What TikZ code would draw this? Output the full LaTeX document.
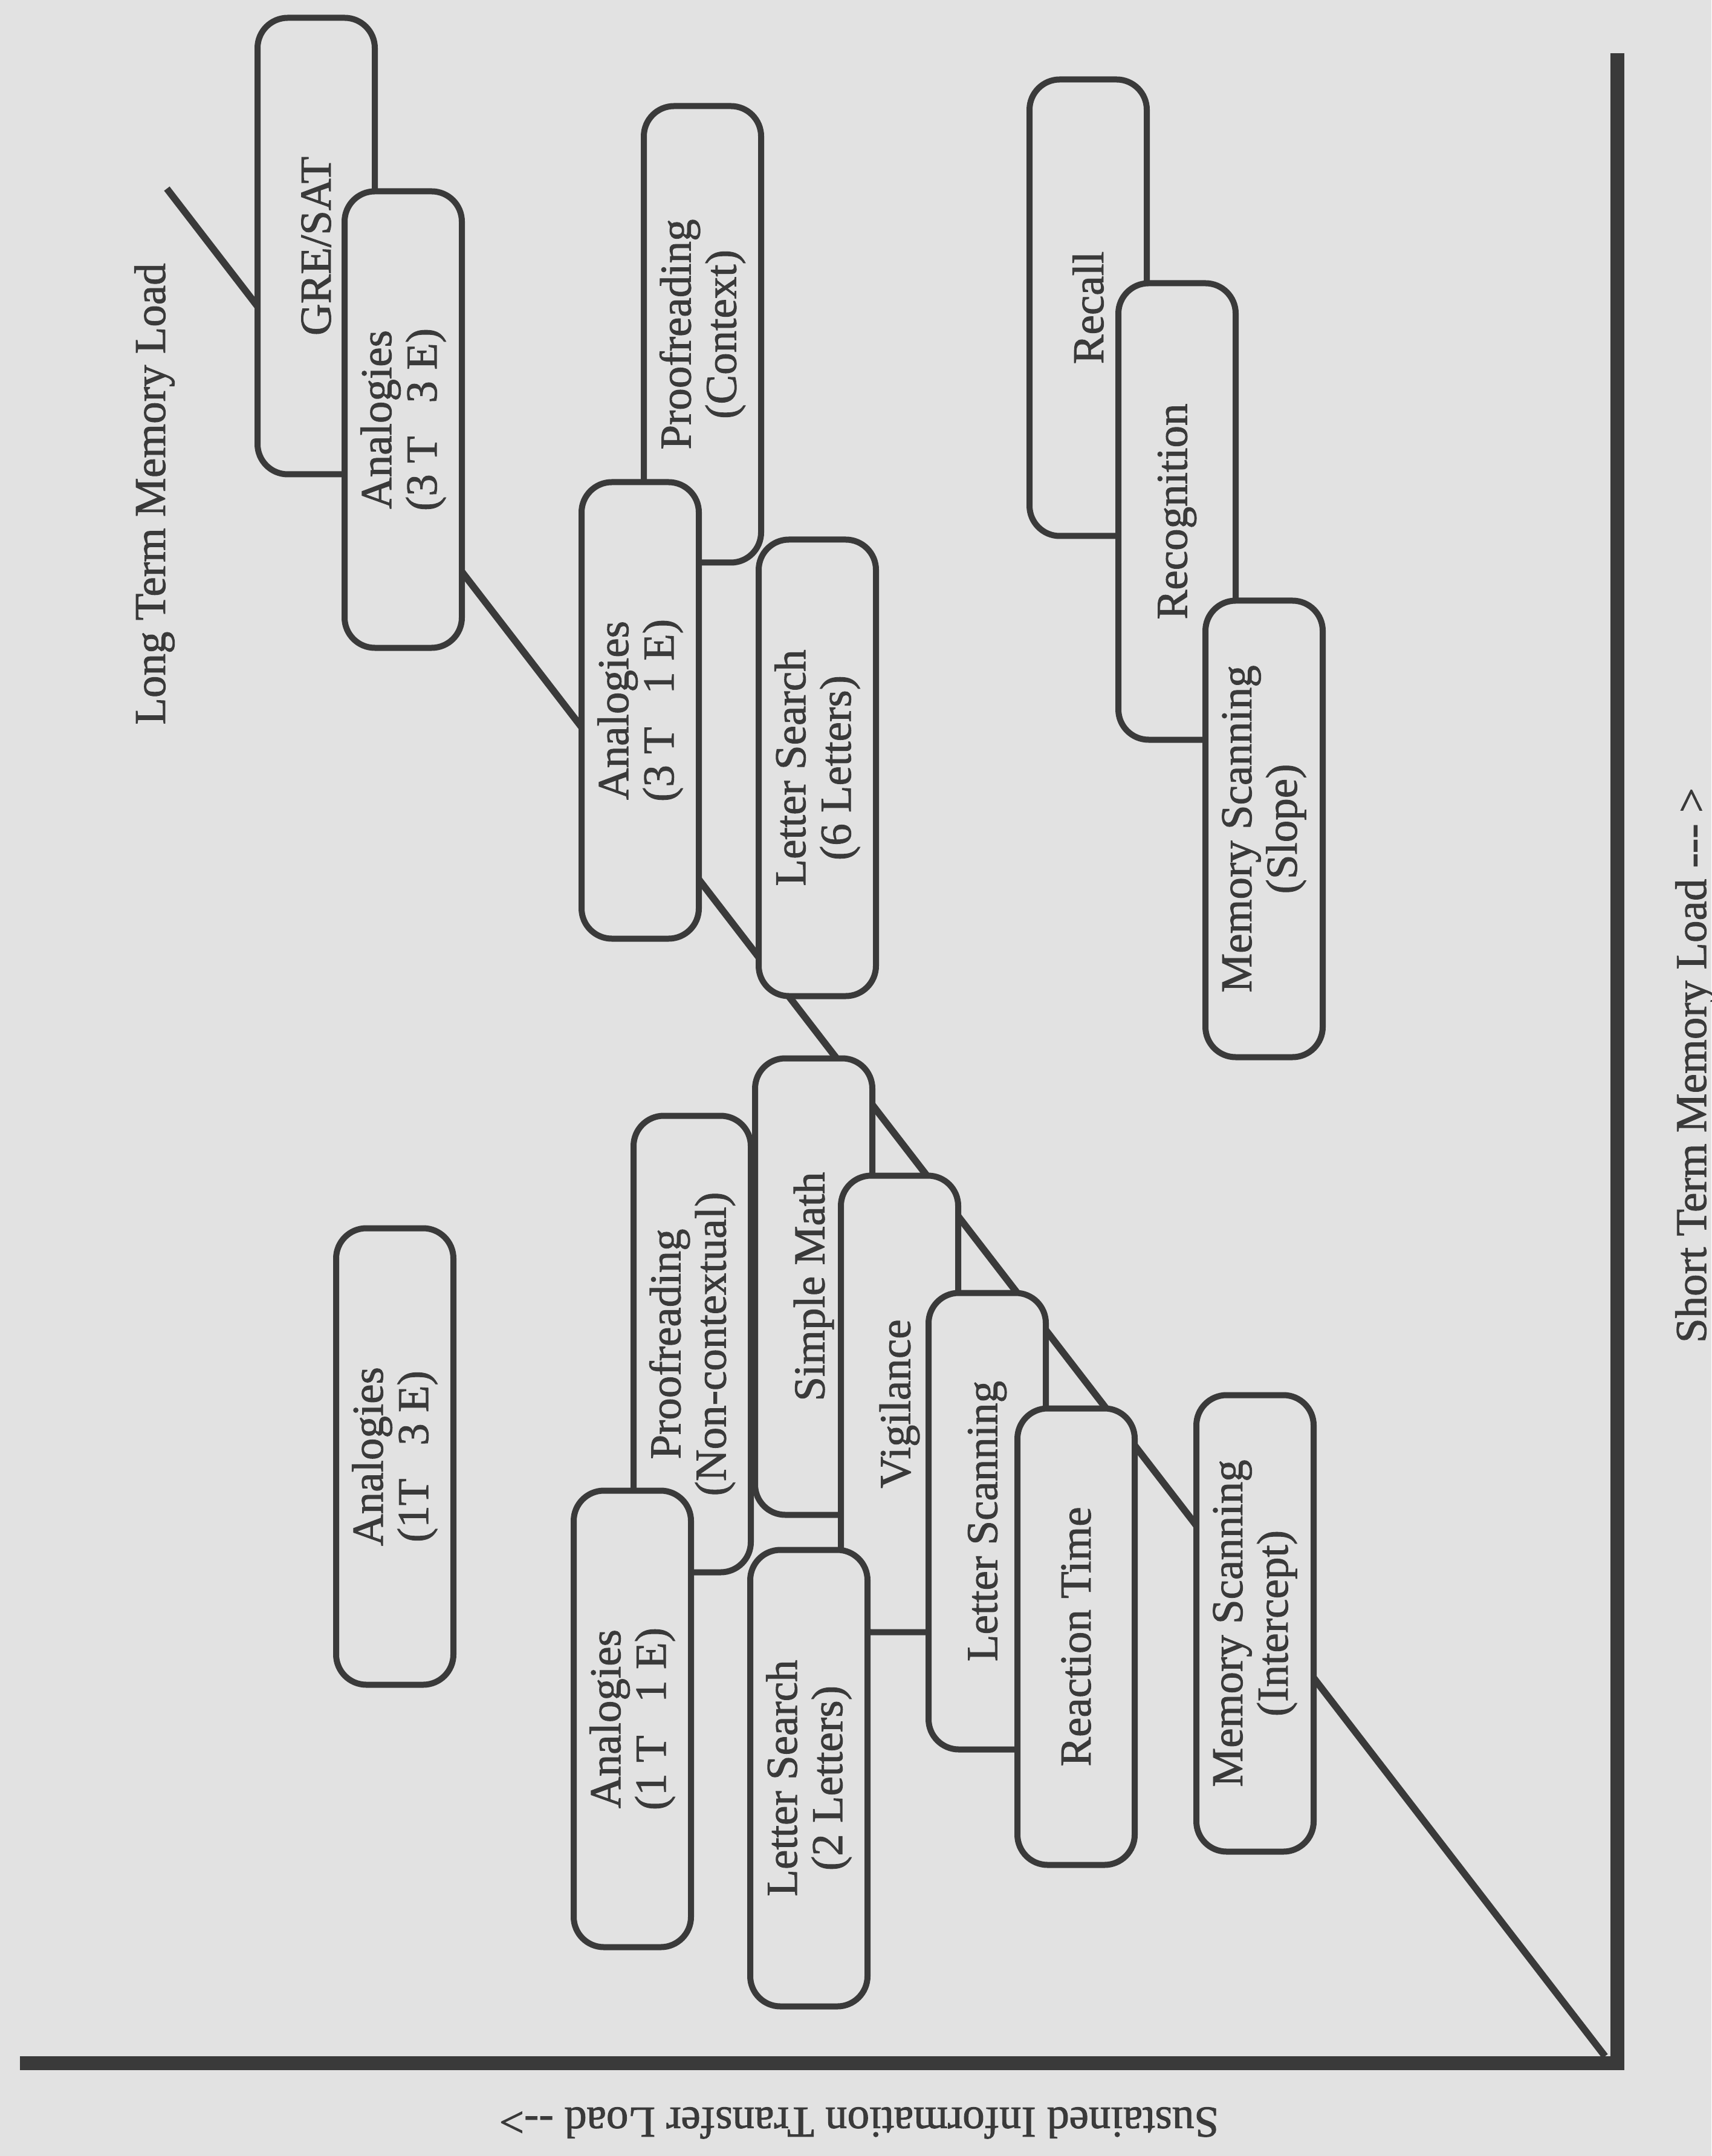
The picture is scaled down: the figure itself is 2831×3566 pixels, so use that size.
\documentclass[tikz,border=0pt]{standalone}
\usepackage{fontspec}
\setmainfont{Liberation Serif}
\newfontfamily\inkfont{Liberation Serif}[BoldFont=Liberation Serif, BoldFeatures={FakeBold=1.3}]

\definecolor{paper}{RGB}{226,226,226}
\definecolor{ink}{RGB}{58,58,58}

\tikzset{every picture/.style={line width=2pt}}
\tikzset{
    task/.style={draw=ink, fill=paper, rounded corners=10pt, rotate=90,
        minimum width=151pt, minimum height=38.8pt, inner sep=0pt,
        align=center, text=ink, font=\inkfont\bfseries\fontsize{14.6}{15}\selectfont},
    axislabel/.style={text=ink, inner sep=0pt, font=\inkfont\bfseries\fontsize{14.6}{15}\selectfont},
    axisline/.style={draw=ink, line width=4.6pt, line join=miter},
    loadline/.style={draw=ink, line width=2.3pt},
}

\begin{document}
\begin{tikzpicture}[x=0.2pt,y=0.2pt,yscale=-1,xscale=1]
    %set diagram at 2831 x 3566
    \useasboundingbox (0,0) rectangle (2831,3566);
    \fill [paper] (0,0) rectangle (2831,3566);
    %Straight Lines
    \coordinate (ltm) at (276,312);
    \coordinate (origin) at (2655,3401);
    \draw [loadline] (origin) -- (ltm);
    %Straight Lines
    \coordinate (ytop) at (2675,88);
    \coordinate (corner) at (2675,3412);
    \coordinate (xleft) at (33,3412);
    \draw [axisline] (ytop) -- (corner) -- (xleft);

    %Rounded Rect
    \node (gre) [task] at (523,407) {GRE/SAT};
    \node (anaTT) [task] at (667,694) {Analogies\\(3 T \ \ 3 E)};
    %Rounded Rect
    \node (proofctx) [task] at (1162,553) {Proofreading\\(Context)};
    \node (anaTO) [task] at (1059,1175) {Analogies\\(3 T \ \ 1 E)};
    \node (searchsix) [task] at (1352,1270) {Letter Search\\(6 Letters)};
    %Rounded Rect
    \node (recall) [task] at (1800,509) {Recall};
    \node (recog) [task] at (1947,846) {Recognition};
    \node (scanslope) [task] at (2091,1371) {Memory Scanning\\(Slope)};
    %Rounded Rect
    \node (anaOT) [task] at (653,2409) {Analogies\\(1T \ \ 3 E)};
    %Rounded Rect
    \node (proofnc) [task] at (1145,2223) {Proofreading\\(Non-contextual)};
    \node (anaOO) [task] at (1046,2843) {Analogies\\(1 T \ \ 1 E)};
    \node (simplemath) [task] at (1346,2128) {Simple Math};
    \node (vigil) [task] at (1488,2322) {Vigilance};
    \node (searchtwo) [task] at (1338,2941) {Letter Search\\(2 Letters)};
    \node (letterscan) [task] at (1633,2516) {Letter Scanning};
    \node (reaction) [task] at (1780,2707) {Reaction Time};
    \node (scanint) [task] at (2076,2685) {Memory Scanning\\(Intercept)};

    % Text Node
    \node (ltmlabel) [axislabel, rotate=90, anchor=base] at (273,817) {Long Term Memory Load};
    % Text Node
    \node (stmlabel) [axislabel, rotate=90, anchor=base] at (2822,1762) {Short Term Memory Load -{}-{}- >};
    % Text Node
    \node (sitlabel) [axislabel, rotate=180, anchor=base] at (1421,3486) {Sustained Information Transfer Load -{}->};
\end{tikzpicture}
\end{document}
